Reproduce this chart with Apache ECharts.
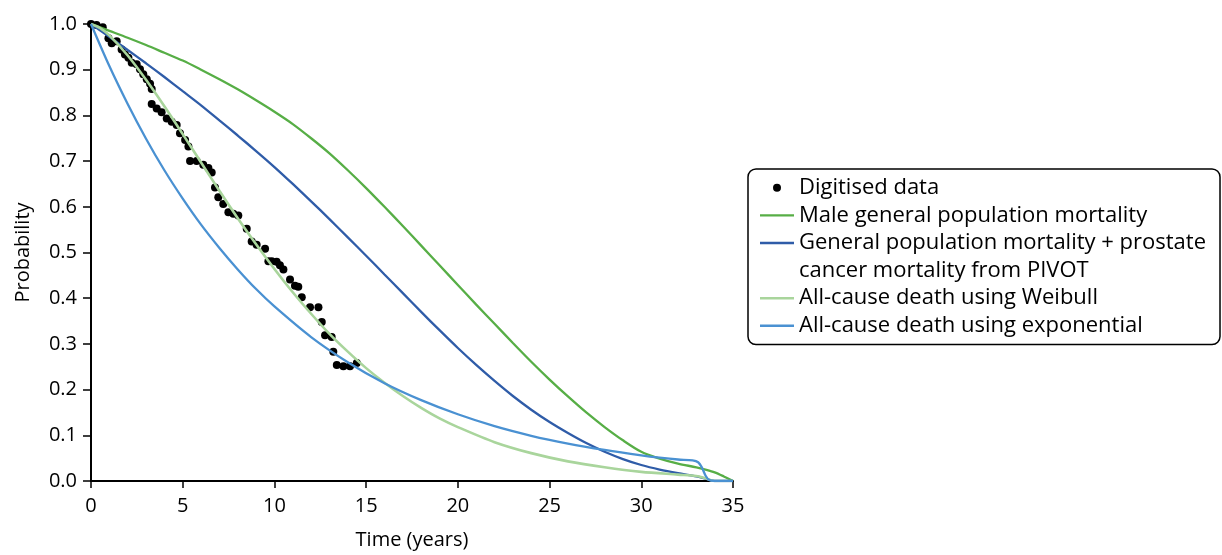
<!DOCTYPE html>
<html>
<head>
<meta charset="utf-8">
<script src="https://cdn.jsdelivr.net/npm/echarts@6/dist/echarts.min.js"></script>
<style>
html,body{margin:0;padding:0;background:#fff;}
#chart{width:1222px;height:555px;}
</style>
</head>
<body>
<div id="chart"></div>
<script>
// ---- Data ----
const xTicks = [0, 5, 10, 15, 20, 25, 30, 35];
const yTicks = [0.0, 0.1, 0.2, 0.3, 0.4, 0.5, 0.6, 0.7, 0.8, 0.9, 1.0];

const digitisedData = [
  [0,1.0],[0.3,0.998],[0.64,0.993],[0.95,0.969],[1.13,0.958],[1.40,0.962],[1.67,0.944],
  [1.85,0.933],[2.04,0.926],[2.22,0.915],[2.49,0.912],[2.67,0.901],[2.85,0.890],
  [3.04,0.879],[3.22,0.869],[3.31,0.858],[3.31,0.825],[3.58,0.815],[3.85,0.807],
  [4.13,0.793],[4.40,0.786],[4.67,0.779],[4.85,0.761],[5.13,0.746],[5.31,0.732],
  [5.40,0.700],[5.76,0.700],[6.12,0.692],[6.40,0.685],[6.58,0.675],[6.76,0.642],
  [6.94,0.621],[7.21,0.606],[7.49,0.588],[7.76,0.585],[8.03,0.581],[8.49,0.552],
  [8.76,0.524],[9.03,0.517],[9.49,0.508],[9.67,0.481],[9.85,0.481],[10.12,0.480],
  [10.30,0.472],[10.49,0.463],[10.85,0.441],[11.12,0.427],[11.30,0.425],[11.49,0.402],
  [11.94,0.380],[12.40,0.380],[12.58,0.348],[12.76,0.319],[13.12,0.315],[13.21,0.283],
  [13.40,0.254],[13.76,0.251],[14.12,0.251],[14.49,0.258]
];

const maleGeneralPopulation = [
  [0,1.000],[1,0.985],[2,0.970],[3,0.954],[4,0.937],[5,0.920],[6,0.900],[7,0.879],
  [8,0.857],[9,0.833],[10,0.808],[11,0.781],[12,0.750],[13,0.717],[14,0.680],
  [15,0.641],[16,0.600],[17,0.558],[18,0.515],[19,0.472],[20,0.429],[21,0.386],
  [22,0.344],[23,0.302],[24,0.261],[25,0.222],[26,0.185],[27,0.150],[28,0.118],
  [29,0.089],[30,0.064],[31,0.049],[32,0.038],[33,0.030],[33.5,0.025],[34,0.019],
  [34.5,0.010],[35,0.000]
];

const generalPlusProstate = [
  [0,1.000],[1,0.972],[2,0.943],[3,0.914],[4,0.884],[5,0.853],[6,0.822],[7,0.789],
  [8,0.756],[9,0.722],[10,0.687],[11,0.650],[12,0.612],[13,0.573],[14,0.533],
  [15,0.493],[16,0.452],[17,0.411],[18,0.370],[19,0.330],[20,0.291],[21,0.254],
  [22,0.219],[23,0.186],[24,0.156],[25,0.129],[26,0.105],[27,0.083],[28,0.064],
  [29,0.048],[30,0.035],[31,0.025],[32,0.017],[33,0.010],[33.5,0.005],[34,0.000],
  [35,0.000]
];

const weibullAllCause = [
  [0,1.000],[0.5,0.991],[1,0.975],[2,0.931],[3,0.878],[4,0.820],[5,0.759],[6,0.697],
  [7,0.635],[8,0.575],[9,0.518],[10,0.464],[11,0.413],[12,0.366],[13,0.322],
  [14,0.283],[15,0.247],[16,0.215],[17,0.186],[18,0.160],[19,0.137],[20,0.118],
  [22,0.085],[24,0.061],[26,0.043],[28,0.030],[30,0.020],[32,0.014],[33,0.011],
  [33.5,0.006],[34,0.000],[35,0.000]
];

const exponentialAllCause = [
  [0,1.000],[1,0.908],[2,0.825],[3,0.749],[4,0.680],[5,0.618],[6,0.561],[7,0.510],
  [8,0.463],[9,0.420],[10,0.382],[12,0.315],[14,0.260],[16,0.214],[18,0.177],
  [20,0.146],[22,0.120],[24,0.099],[26,0.082],[28,0.068],[30,0.056],[31,0.051],
  [32,0.047],[32.8,0.045],[33.1,0.041],[33.3,0.030],[33.5,0.012],[33.7,0.002],
  [34,0.000],[35,0.000]
];

const legendNames = [
  'Digitised data',
  'Male general population mortality',
  'General population mortality + prostate',
  'cancer mortality from PIVOT',
  'All-cause death using Weibull',
  'All-cause death using exponential'
];

const FONT = 'Open Sans';
const LINE_ICON = 'path://M0,0L34,0L34,2.4L0,2.4Z';
const chart = echarts.init(document.getElementById('chart'), null, {renderer: 'canvas'});

function lineSeries(name, data, color, width) {
  return {
    name: name, type: 'line', data: data, symbol: 'none', showSymbol: false,
    smooth: 0.3,
    lineStyle: {color: color, width: width}, itemStyle: {color: color},
    z: 3, animation: false
  };
}

chart.setOption({
  animation: false,
  backgroundColor: '#ffffff',
  grid: {left: 91, right: 489, top: 24, bottom: 67, containLabel: false},
  xAxis: {
    type: 'value', min: xTicks[0], max: xTicks[xTicks.length - 1], interval: 5,
    name: 'Time (years)', nameLocation: 'middle', nameGap: 49,
    nameTextStyle: {fontFamily: FONT, fontSize: 20, color: '#000'},
    axisLine: {show: true, onZero: false, lineStyle: {color: '#000', width: 2}},
    axisTick: {show: true, length: 7, lineStyle: {color: '#000', width: 1.5}},
    axisLabel: {fontFamily: FONT, fontSize: 20, color: '#000', margin: 15},
    splitLine: {show: false}
  },
  yAxis: {
    type: 'value', min: yTicks[0], max: yTicks[yTicks.length - 1], interval: 0.1,
    name: 'Probability', nameLocation: 'middle', nameGap: 58,
    nameTextStyle: {fontFamily: FONT, fontSize: 20, color: '#000'},
    axisLine: {show: true, onZero: false, lineStyle: {color: '#000', width: 2}},
    axisTick: {show: true, length: 8, lineStyle: {color: '#000', width: 1.5}},
    axisLabel: {fontFamily: FONT, fontSize: 20, color: '#000', margin: 14,
      formatter: v => v.toFixed(1)},
    splitLine: {show: false}
  },
  legend: {
    orient: 'vertical', left: 748, top: 169,
    padding: [5, 14, 5, 12],
    backgroundColor: '#fff', borderColor: '#000', borderWidth: 1.5, borderRadius: 8,
    itemWidth: 34, itemHeight: 8, itemGap: 0,
    selectedMode: false,
    textStyle: {fontFamily: FONT, fontSize: 22, color: '#000', lineHeight: 27.6},
    data: [
      {name: legendNames[0], icon: 'circle'},
      {name: legendNames[1], icon: LINE_ICON},
      {name: legendNames[2], icon: LINE_ICON},
      {name: legendNames[3], icon: 'none'},
      {name: legendNames[4], icon: LINE_ICON},
      {name: legendNames[5], icon: LINE_ICON}
    ]
  },
  series: [
    {
      name: legendNames[0], type: 'scatter', data: digitisedData,
      symbol: 'circle', symbolSize: 8, itemStyle: {color: '#000', opacity: 1}, z: 2
    },
    lineSeries(legendNames[1], maleGeneralPopulation, '#57ae46', 2.3),
    lineSeries(legendNames[2], generalPlusProstate, '#2f5ca8', 2.3),
    {name: legendNames[3], type: 'line', data: [], symbol: 'none',
      lineStyle: {color: 'rgba(0,0,0,0)'}, itemStyle: {color: 'rgba(0,0,0,0)'}},
    lineSeries(legendNames[4], weibullAllCause, '#a9d59c', 2.6),
    lineSeries(legendNames[5], exponentialAllCause, '#4a91d2', 2.3)
  ]
});
</script>
</body>
</html>
